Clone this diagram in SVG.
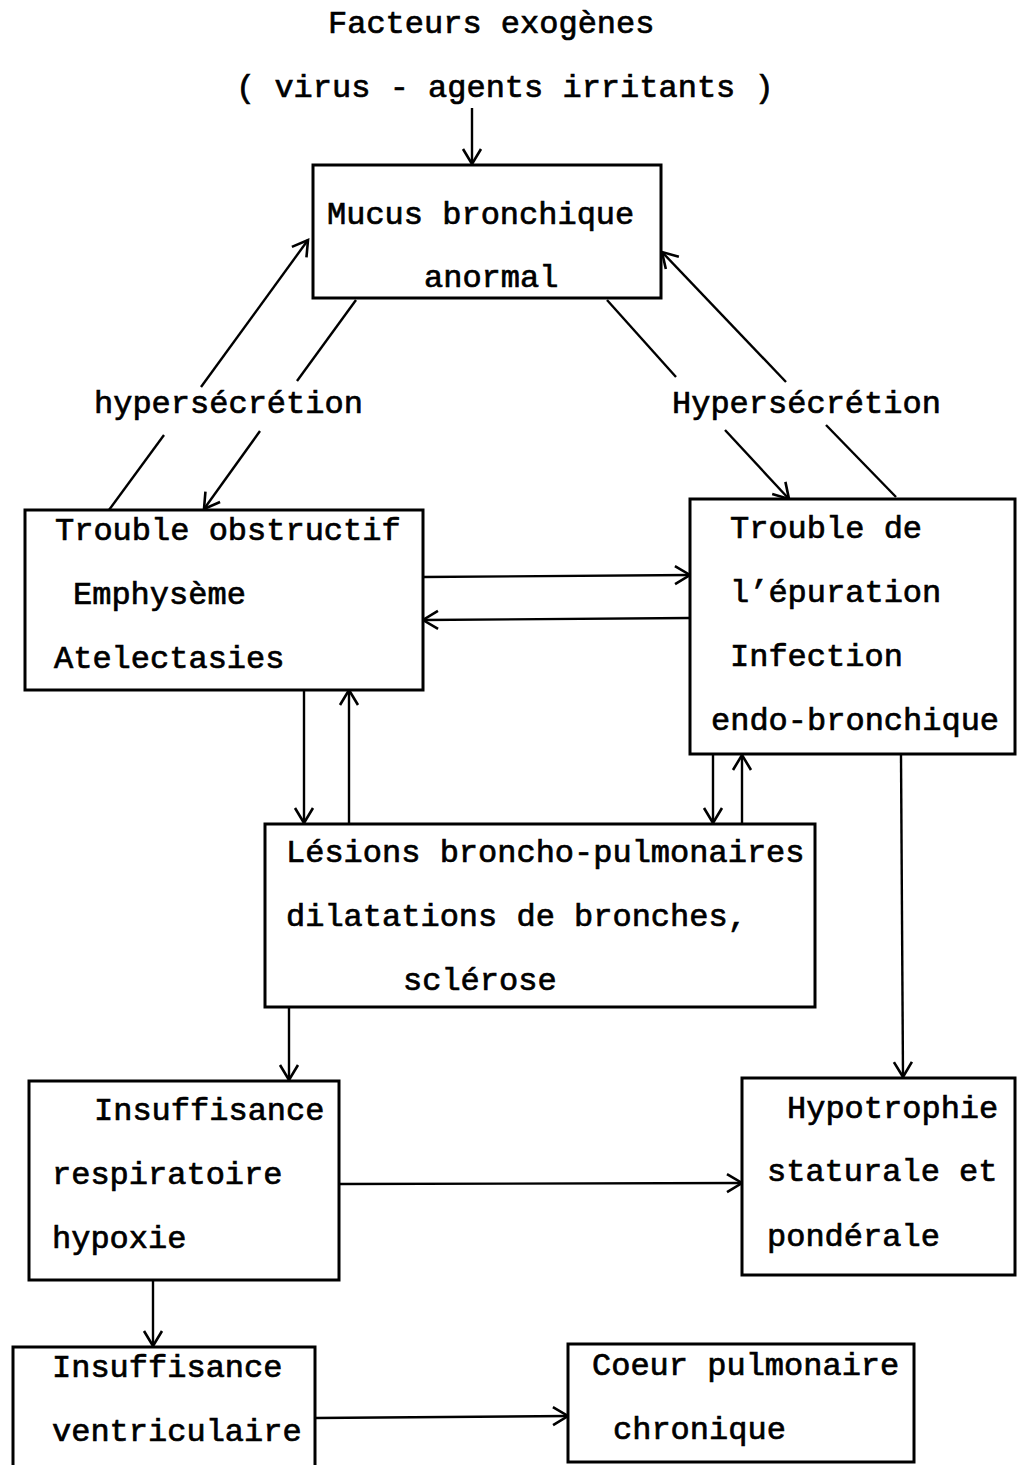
<svg xmlns="http://www.w3.org/2000/svg" width="1017" height="1465" viewBox="0 0 1017 1465">
<style>
.t{font-family:"Liberation Mono","Courier New",monospace;font-size:32px;fill:#000;stroke:#000;stroke-width:0.7}
.box{fill:#fff;stroke:#000;stroke-width:3}
.c{stroke:#000;stroke-width:2.4;fill:none}
.a{marker-end:url(#ah)}
</style>
<defs>
<marker id="ah" markerWidth="20" markerHeight="22" refX="16" refY="11" orient="auto" markerUnits="userSpaceOnUse">
<path d="M1,2 L16,11 L1,20" fill="none" stroke="#000" stroke-width="2.6"/>
</marker>
</defs>
<rect width="1017" height="1465" fill="#fff"/>
<g id="labels">
<text class="t" x="328" y="33">Facteurs exogènes</text>
<text class="t" x="236" y="97">( virus - agents irritants )</text>
<text class="t" x="94" y="413">hypersécrétion</text>
<text class="t" x="672" y="413">Hypersécrétion</text>
</g>
<g id="connectors">
<line class="c a" x1="472" y1="108" x2="472" y2="164"/>
<line class="c a" x1="201" y1="387" x2="308" y2="240"/>
<line class="c" x1="109" y1="510" x2="164" y2="435"/>
<line class="c" x1="356" y1="300" x2="297" y2="381"/>
<line class="c a" x1="260" y1="431" x2="204" y2="509"/>
<line class="c" x1="607" y1="300" x2="676" y2="377"/>
<line class="c a" x1="725" y1="430" x2="789" y2="499"/>
<line class="c a" x1="786" y1="382" x2="662" y2="252"/>
<line class="c" x1="896" y1="497" x2="826" y2="425"/>
<line class="c a" x1="423" y1="577" x2="690" y2="575"/>
<line class="c a" x1="690" y1="618" x2="423" y2="620"/>
<line class="c a" x1="304" y1="690" x2="304" y2="823"/>
<line class="c a" x1="349" y1="823" x2="349" y2="690"/>
<line class="c a" x1="713" y1="755" x2="713" y2="823"/>
<line class="c a" x1="742" y1="823" x2="742" y2="755"/>
<line class="c a" x1="901" y1="755" x2="903" y2="1077"/>
<line class="c a" x1="289" y1="1007" x2="289" y2="1080"/>
<line class="c a" x1="339" y1="1184" x2="742" y2="1183"/>
<line class="c a" x1="153" y1="1280" x2="153" y2="1346"/>
<line class="c a" x1="315" y1="1418" x2="568" y2="1416"/>
</g>
<g id="n-mucus">
<rect class="box" x="313" y="165" width="348" height="133"/>
<text class="t" x="327" y="224">Mucus bronchique</text>
<text class="t" x="424" y="287">anormal</text>
</g>
<g id="n-obstructif">
<rect class="box" x="25" y="510" width="398" height="180"/>
<text class="t" x="55" y="540">Trouble obstructif</text>
<text class="t" x="73" y="604">Emphysème</text>
<text class="t" x="54" y="668">Atelectasies</text>
</g>
<g id="n-epuration">
<rect class="box" x="690" y="499" width="325" height="255"/>
<text class="t" x="730" y="538">Trouble de</text>
<text class="t" x="730" y="602">l’épuration</text>
<text class="t" x="730" y="666">Infection</text>
<text class="t" x="711" y="730">endo-bronchique</text>
</g>
<g id="n-lesions">
<rect class="box" x="265" y="824" width="550" height="183"/>
<text class="t" x="286" y="862">Lésions broncho-pulmonaires</text>
<text class="t" x="286" y="926">dilatations de bronches,</text>
<text class="t" x="403" y="990">sclérose</text>
</g>
<g id="n-insresp">
<rect class="box" x="29" y="1081" width="310" height="199"/>
<text class="t" x="94" y="1120">Insuffisance</text>
<text class="t" x="52" y="1184">respiratoire</text>
<text class="t" x="52" y="1248">hypoxie</text>
</g>
<g id="n-hypotrophie">
<rect class="box" x="742" y="1078" width="273" height="197"/>
<text class="t" x="787" y="1118">Hypotrophie</text>
<text class="t" x="767" y="1181">staturale et</text>
<text class="t" x="767" y="1246">pondérale</text>
</g>
<g id="n-insvent">
<rect class="box" x="13" y="1347" width="302" height="130"/>
<text class="t" x="52" y="1377">Insuffisance</text>
<text class="t" x="52" y="1441">ventriculaire</text>
</g>
<g id="n-coeur">
<rect class="box" x="568" y="1344" width="346" height="118"/>
<text class="t" x="592" y="1375">Coeur pulmonaire</text>
<text class="t" x="613" y="1439">chronique</text>
</g>
</svg>
